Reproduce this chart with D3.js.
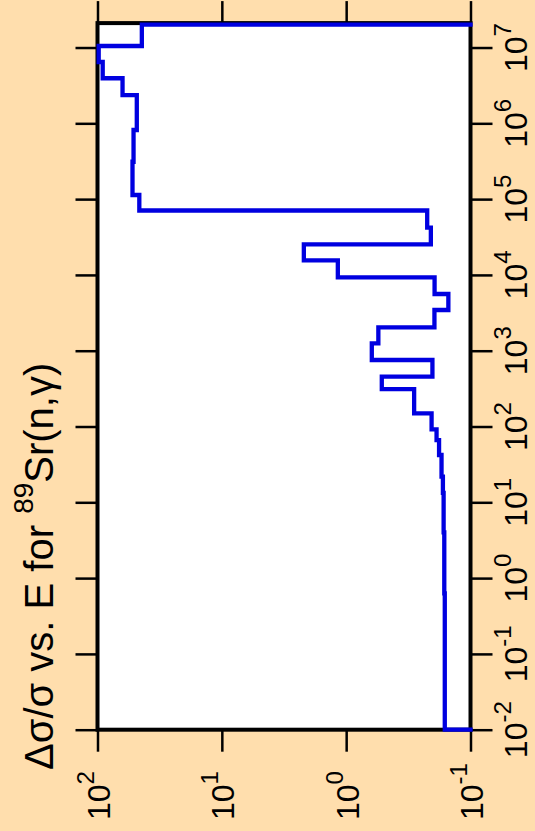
<!DOCTYPE html>
<html>
<head>
<meta charset="utf-8">
<script src="https://cdn.jsdelivr.net/npm/d3@7"></script>
<style>
  html, body { margin: 0; padding: 0; background: #ffdead; }
  svg { display: block; }
  text { font-family: "Liberation Sans", Arial, Helvetica, sans-serif; fill: #000; }
</style>
</head>
<body>
<svg id="chart" width="535" height="831"></svg>
<script>
// Group boundaries in eV (low to high) and the relative uncertainty of each group
const energyEdges = [0.01, 0.63, 4.0, 13.3, 21.8, 42.1, 66.3, 91.8, 149, 312, 454, 754,
  1253, 2036, 3443, 5598, 9290, 15590, 25350, 41980, 70790, 113300, 311300, 816000,
  2.36e6, 3.93e6, 6.44e6, 1.047e7, 2e7];
const relUncertainty = [0.161, 0.1625, 0.1645, 0.1667, 0.171, 0.179, 0.1875, 0.2056,
  0.284, 0.517, 0.2024, 0.622, 0.551, 0.195, 0.1507, 0.1945, 1.167, 2.19, 0.2084, 0.223,
  46.1, 52.3, 51.3, 48.3, 62.9, 90.8, 97.8, 44.0];

// Axis limits and decade tick exponents
const energyLimits = [1e-2, 2.1e7];
const uncertaintyLimits = [100, 0.1];
const energyTickExps = [-2, -1, 0, 1, 2, 3, 4, 5, 6, 7];
const uncertaintyTickExps = [2, 1, 0, -1];

(function draw() {
  const W = 535, H = 831;
  const svg = d3.select("#chart");

  svg.append("rect").attr("width", W).attr("height", H).attr("fill", "#ffdead");

  // Energy runs up the page, uncertainty runs across (large on the left)
  const eScale = d3.scaleLog().domain(energyLimits).range([729.7, 23.1]);
  const uScale = d3.scaleLog().domain(uncertaintyLimits).range([97.5, 470.5]);

  const plotL = uScale(uncertaintyLimits[0]), plotR = uScale(uncertaintyLimits[1]);
  const plotT = eScale(energyLimits[1]), plotB = eScale(energyLimits[0]);

  svg.append("rect")
    .attr("x", plotL).attr("y", plotT)
    .attr("width", plotR - plotL).attr("height", plotB - plotT)
    .attr("fill", "#fff");

  // Ticks on all four sides, pointing outward
  const eTicks = energyTickExps.map(e => Math.pow(10, e));
  const uTicks = uncertaintyTickExps.map(e => Math.pow(10, e));
  const tickLen = 22;

  function styleAxis(g) {
    g.select(".domain").remove();
    g.selectAll(".tick line").attr("stroke", "#000").attr("stroke-width", 2.5);
  }

  svg.append("g").attr("transform", `translate(${plotL},0)`)
    .call(d3.axisLeft(eScale).tickValues(eTicks).tickSize(tickLen).tickSizeOuter(0).tickFormat(""))
    .call(styleAxis);
  svg.append("g").attr("transform", `translate(${plotR},0)`)
    .call(d3.axisRight(eScale).tickValues(eTicks).tickSize(tickLen).tickSizeOuter(0).tickFormat(""))
    .call(styleAxis);
  svg.append("g").attr("transform", `translate(0,${plotT})`)
    .call(d3.axisTop(uScale).tickValues(uTicks).tickSize(tickLen).tickSizeOuter(0).tickFormat(""))
    .call(styleAxis);
  svg.append("g").attr("transform", `translate(0,${plotB})`)
    .call(d3.axisBottom(uScale).tickValues(uTicks).tickSize(tickLen).tickSizeOuter(0).tickFormat(""))
    .call(styleAxis);

  // Frame
  svg.append("rect")
    .attr("x", plotL).attr("y", plotT)
    .attr("width", plotR - plotL).attr("height", plotB - plotT)
    .attr("fill", "none").attr("stroke", "#000").attr("stroke-width", 4);

  // Rotated power-of-ten labels
  function powerLabel(g, exp, anchor) {
    const t = g.append("text").attr("text-anchor", anchor).attr("font-size", 32);
    t.append("tspan").text("10");
    t.append("tspan").attr("font-size", 24).attr("dy", -16).text(String(exp));
  }

  energyTickExps.forEach(e => {
    const g = svg.append("g")
      .attr("transform", `translate(527,${eScale(Math.pow(10, e))}) rotate(-90)`);
    powerLabel(g, e, "middle");
  });

  uncertaintyTickExps.forEach(e => {
    const g = svg.append("g")
      .attr("transform", `translate(${uScale(Math.pow(10, e)) + 12.5},820) rotate(-90)`);
    powerLabel(g, e, "start");
  });

  // Histogram of relative uncertainty, closed down to the axis floor at both ends
  const floor = uncertaintyLimits[1];
  const pts = [[energyEdges[0], floor]];
  relUncertainty.forEach((v, i) => {
    pts.push([energyEdges[i], v]);
    pts.push([energyEdges[i + 1], v]);
  });
  pts.push([energyEdges[energyEdges.length - 1], floor]);

  const line = d3.line().x(d => uScale(d[1])).y(d => eScale(d[0]));
  svg.append("path")
    .attr("d", line(pts))
    .attr("fill", "none")
    .attr("stroke", "#0000e0")
    .attr("stroke-width", 4.3)
    .attr("stroke-linejoin", "miter")
    .attr("stroke-linecap", "square");

  // Title, reading bottom to top
  const title = svg.append("g").attr("transform", "translate(53,770) rotate(-90)")
    .append("text").attr("font-size", 40).attr("text-anchor", "start");
  title.append("tspan").text("\u0394\u03c3/\u03c3 vs. E for ");
  title.append("tspan").attr("font-size", 28).attr("dy", -20).text("89");
  title.append("tspan").attr("dy", 20).text("Sr(n,\u03b3)");
})();
</script>
</body>
</html>
